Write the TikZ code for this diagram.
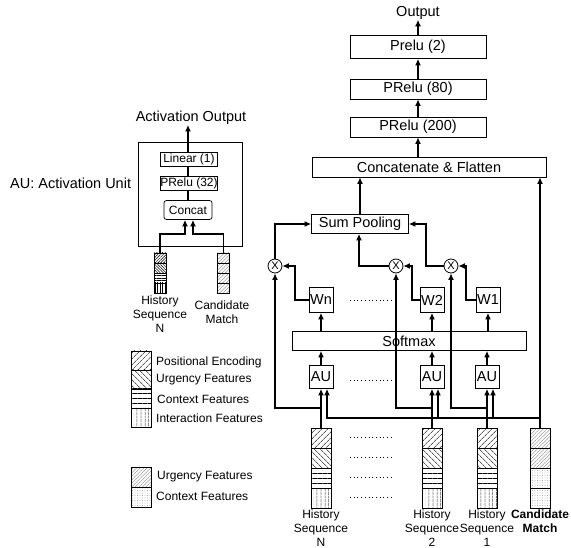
\documentclass[tikz,border=0pt]{standalone}
\usepackage{fontspec}
\setmainfont{Liberation Sans}
\usetikzlibrary{arrows.meta,patterns.meta,calc}
\begin{document}
\begin{tikzpicture}[x=1pt,y=-1pt,
  conn/.style={line width=1.8pt},
  arr/.style={conn,-{Latex[length=6.5pt,width=6pt]}},
  bx/.style={draw,line width=0.8pt,inner sep=0pt,font=\fontsize{14.5}{16}\selectfont},
  sbx/.style={draw,line width=0.7pt,inner sep=0pt,font=\fontsize{12}{13}\selectfont},
  lbl/.style={font=\fontsize{14.5}{16}\selectfont,inner sep=0pt},
  slbl/.style={font=\fontsize{12}{14}\selectfont,inner sep=0pt,align=center},
  leglbl/.style={font=\fontsize{12}{14}\selectfont,inner sep=0pt,anchor=west},
  mul/.style={circle,draw,line width=0.8pt,minimum size=14pt,inner sep=0pt,font=\fontsize{11}{11}\selectfont},
  cell/.style={draw,line width=0.6pt,minimum width=20pt,minimum height=20pt,inner sep=0pt},
  scell/.style={draw,line width=0.5pt,minimum width=12pt,minimum height=10pt,inner sep=0pt},
  pNE/.style={pattern={Lines[angle=45,distance=4pt,line width=0.6pt]}},
  pNW/.style={pattern={Lines[angle=-45,distance=4pt,line width=0.6pt]}},
  pH/.style={pattern={Lines[angle=0,distance=5pt,line width=0.6pt]}},
  pV/.style={pattern={Lines[angle=90,distance=4pt,line width=0.6pt]}},
  sNE/.style={pattern={Lines[angle=45,distance=2pt,line width=0.5pt]}},
  sNW/.style={pattern={Lines[angle=-45,distance=2pt,line width=0.5pt]}},
  sH/.style={pattern={Lines[angle=0,distance=2.5pt,line width=0.5pt]}},
  sV/.style={pattern={Lines[angle=90,distance=2.5pt,line width=0.5pt]}},
  cU/.style={pattern={Lines[angle=45,distance=2.5pt,line width=0.35pt]},pattern color=gray},
  cC/.style={pattern={Dots[distance=2.5pt,radius=0.35pt]},pattern color=gray},
  dotsline/.style={line width=0.9pt,dash pattern=on 0.8pt off 2.9pt}
]
\useasboundingbox (0,0) rectangle (571,548);

% ---------- top chain ----------
\node[lbl] (out) at (418,13) {Output};
\node[bx,minimum width=136pt,minimum height=23pt] (p2) at (418,47) {Prelu (2)};
\node[bx,minimum width=136pt,minimum height=20pt] (p80) at (418,89) {PRelu (80)};
\node[bx,minimum width=136pt,minimum height=20pt] (p200) at (418,127) {PRelu (200)};
\node[bx,minimum width=234pt,minimum height=20pt] (cf) at (429,167) {Concatenate \& Flatten};
\node[bx,minimum width=97pt,minimum height=19pt] (sp) at (360,224) {Sum Pooling};

% ---------- multipliers, weights, softmax, AUs ----------
\node[mul] (cn) at (275,266) {X};
\node[mul] (c2) at (396,266) {X};
\node[mul] (c1) at (451,266) {X};
\node[bx,minimum width=24pt,minimum height=25pt] (wn) at (321,300) {Wn};
\node[bx,minimum width=24pt,minimum height=25pt] (w2) at (432,300) {W2};
\node[bx,minimum width=24pt,minimum height=25pt] (w1) at (488,300) {W1};
\node[bx,minimum width=234pt,minimum height=19pt] (sm) at (409,341) {Softmax};
\node[bx,minimum width=24pt,minimum height=23pt] (aun) at (321,377) {AU};
\node[bx,minimum width=24pt,minimum height=23pt] (au2) at (432,377) {AU};
\node[bx,minimum width=24pt,minimum height=23pt] (au1) at (487,377) {AU};

% ---------- sequences ----------
\node[cell,pNE] (sNa) at (321,438) {};
\node[cell,pNW] (sNb) at (321,458) {};
\node[cell,pH]  (sNc) at (321,478) {};
\node[cell,pV]  (sNd) at (321,498) {};
\node[cell,pNE] (s2a) at (432,438) {};
\node[cell,pNW] (s2b) at (432,458) {};
\node[cell,pH]  (s2c) at (432,478) {};
\node[cell,pV]  (s2d) at (432,498) {};
\node[cell,pNE] (s1a) at (487,438) {};
\node[cell,pNW] (s1b) at (487,458) {};
\node[cell,pH]  (s1c) at (487,478) {};
\node[cell,pV]  (s1d) at (487,498) {};
\node[cell,cU] (ca) at (540,438) {};
\node[cell,cU] (cb) at (540,458) {};
\node[cell,cC] (cc2) at (540,478) {};
\node[cell,cC] (cd) at (540,498) {};

\node[slbl,anchor=north] (lN) at (321,510) {History\\Sequence\\N};
\node[slbl,anchor=north] (l2) at (432,510) {History\\Sequence\\2};
\node[slbl,anchor=north] (l1) at (487,510) {History\\Sequence\\1};
\node[slbl,anchor=north,font=\fontsize{12}{14}\selectfont\bfseries] (lc) at (540,510) {Candidate\\Match};

% dotted separators
\draw[dotsline] (350,300) -- (391,300);
\draw[dotsline] (350,380) -- (391,380);
\draw[dotsline] (350,437) -- (391,437);
\draw[dotsline] (350,457) -- (391,457);
\draw[dotsline] (350,477) -- (391,477);
\draw[dotsline] (350,497) -- (391,497);

% ---------- connectors (right part) ----------
\draw[arr] (p2.north) -- (out.south);
\draw[arr] (p80.north) -- (p2.south);
\draw[arr] (p200.north) -- (p80.south);
\draw[arr] (p200.south |- cf.north) -- (p200.south);
\draw[arr] (sp.north) -- (sp.north |- cf.south);
\draw[arr] (ca.north) -- (ca.north |- cf.south);

\draw[arr] (cn.north) |- (sp.west);
\draw[arr] (c2.west) -| ($(sp.south)+(-1,0)$);
\draw[arr] (c1.west) -- ++(-18,0) |- (sp.east);

\draw[arr] (wn.west) -- ++(-14,0) |- (cn.east);
\draw[arr] (w2.west) -- ++(-8,0) |- (c2.east);
\draw[arr] (w1.west) -- ++(-10,0) |- (c1.east);

\draw[arr] (sm.north -| wn.south) -- (wn.south);
\draw[arr] (sm.north -| w2.south) -- (w2.south);
\draw[arr] (sm.north -| w1.south) -- (w1.south);

\draw[arr] (aun.north) -- (aun.north |- sm.south);
\draw[arr] (au2.north) -- (au2.north |- sm.south);
\draw[arr] (au1.north) -- (au1.north |- sm.south);

\coordinate (yb) at (0,408);
\coordinate (yc) at (0,418);
\draw[arr] (sNa.north) -- (sNa.north |- aun.south);
\draw[arr] (sNa.north |- yb) -| (cn.south);
\draw[arr] (s2a.north) -- (s2a.north |- au2.south);
\draw[arr] (s2a.north |- yb) -| (c2.south);
\draw[arr] (s1a.north) -- (s1a.north |- au1.south);
\draw[arr] (s1a.north |- yb) -| (c1.south);

\draw[arr] (ca.north |- yc) -- ($(aun.south |- yc)+(6,0)$) -- ($(aun.south)+(6,0)$);
\draw[arr] ($(au2.south |- yc)+(6,0)$) -- ($(au2.south)+(6,0)$);
\draw[arr] ($(au1.south |- yc)+(6,0)$) -- ($(au1.south)+(6,0)$);

% ---------- activation unit (left) ----------
\node[lbl] (ao) at (191,118) {Activation Output};
\node[draw,line width=0.8pt,minimum width=104pt,minimum height=104pt,inner sep=0pt] (aubox) at (190,194) {};
\node[lbl,anchor=west] (aulbl) at (10,183) {AU: Activation Unit};
\node[sbx,minimum width=57pt,minimum height=14pt] (lin) at (189,159) {Linear (1)};
\node[sbx,minimum width=57pt,minimum height=14pt] (pr32) at (189,183) {PRelu (32)};
\node[sbx,rounded corners=2.5pt,minimum width=48pt,minimum height=19pt] (cct) at (188,210) {Concat};
\draw[conn] (cct.north) -- (cct.north |- pr32.south);
\draw[conn] (pr32.north -| cct.north) -- (lin.south -| cct.north);
\draw[arr] (lin.north -| cct.north) -- (cct.north |- ao.south);

\node[scell,sNE] (hsa) at (160,258) {};
\node[scell,sNW] (hsb) at (160,268) {};
\node[scell,sH]  (hsc) at (160,278) {};
\node[scell,sV]  (hsd) at (160,288) {};
\node[scell,cU] (csa) at (223.5,258) {};
\node[scell,cU] (csb) at (223.5,268) {};
\node[scell,cU] (csc) at (223.5,278) {};
\node[scell,cU] (csd) at (223.5,288) {};
\draw[arr] (hsa.north) -- ++(0,-19) -| ($(cct.south)+(-3,0)$);
\draw[arr] (csa.north) -- ++(0,-19) -| ($(cct.south)+(5,0)$);
\node[slbl,anchor=north] (hlbl) at (160,296) {History\\Sequence\\N};
\node[slbl,anchor=north] (clbl) at (222,301) {Candidate\\Match};

% ---------- legends ----------
\node[cell,pNE,minimum height=19pt] (g1) at (141,360.5) {};
\node[cell,pNW,minimum height=19pt] (g2) at (141,379.5) {};
\node[cell,pH,minimum height=19pt]  (g3) at (141,398.5) {};
\node[cell,pV,minimum height=19pt]  (g4) at (141,417.5) {};
\node[leglbl] at (156,362) {Positional Encoding};
\node[leglbl] at (156,380) {Urgency Features};
\node[leglbl] at (157,399) {Context Features};
\node[leglbl] at (156,418) {Interaction Features};
\node[cell,cU] (g5) at (141,477) {};
\node[cell,cC] (g6) at (141,497) {};
\node[leglbl] at (157,477) {Urgency Features};
\node[leglbl] at (156,496) {Context Features};
\end{tikzpicture}
\end{document}
